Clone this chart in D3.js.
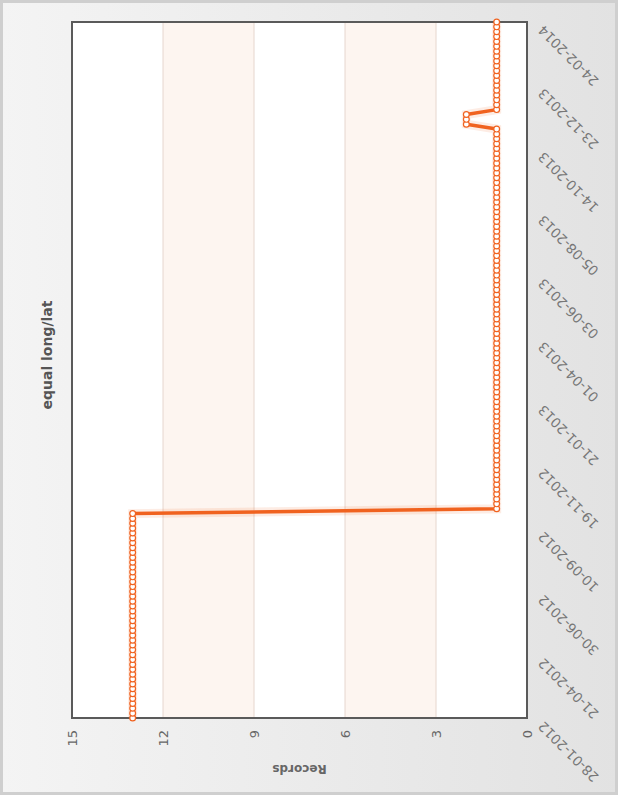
<!DOCTYPE html>
<html>
<head>
<meta charset="utf-8">
<script src="https://cdn.jsdelivr.net/npm/d3@7"></script>
<style>
body { margin: 0; background: #fff; }
text { font-family: "DejaVu Sans", Verdana, sans-serif; }
</style>
</head>
<body>
<div id="app"></div>
<script>
// Chart data.
var chartTitle = "equal long/lat";
var yTitle = "Records";
var yTicks = [0, 3, 6, 9, 12, 15];
var dateLabels = ["28-01-2012", "21-04-2012", "30-06-2012", "10-09-2012", "19-11-2012", "21-01-2013",
	"01-04-2013", "03-06-2013", "05-08-2013", "14-10-2013", "23-12-2013", "24-02-2014"];
var labelStep = 13;	// one date label every 13 records
var records = [
	13, 13, 13, 13, 13, 13, 13, 13, 13, 13, 13, 13, 13, 13, 13, 13, 13, 13, 13, 13,
	13, 13, 13, 13, 13, 13, 13, 13, 13, 13, 13, 13, 13, 13, 13, 13, 13, 13, 13, 13,
	13, 13, 13, 1, 1, 1, 1, 1, 1, 1, 1, 1, 1, 1, 1, 1, 1, 1, 1, 1,
	1, 1, 1, 1, 1, 1, 1, 1, 1, 1, 1, 1, 1, 1, 1, 1, 1, 1, 1, 1,
	1, 1, 1, 1, 1, 1, 1, 1, 1, 1, 1, 1, 1, 1, 1, 1, 1, 1, 1, 1,
	1, 1, 1, 1, 1, 1, 1, 1, 1, 1, 1, 1, 1, 1, 1, 1, 1, 1, 1, 1,
	1, 1, 2, 2, 2, 1, 1, 1, 1, 1, 1, 1, 1, 1, 1, 1, 1, 1, 1, 1,
	1, 1, 1, 1];

var width = 620, height = 798;
// The chart is laid out unrotated (798 wide, 620 high) and then turned a quarter left.
var cw = height, ch = width;
var plot = {left: 80, right: 776, top: 72, bottom: 527};
var lineColor = "#f0621f";

var svg = d3.select("#app").append("svg")
	.attr("width", width).attr("height", height);

var defs = svg.append("defs");
var grad = defs.append("linearGradient").attr("id", "bg")
	.attr("gradientUnits", "userSpaceOnUse")
	.attr("x1", 0).attr("y1", 0).attr("x2", width).attr("y2", 0);
grad.append("stop").attr("offset", 0).attr("stop-color", "#f4f4f4");
grad.append("stop").attr("offset", 1).attr("stop-color", "#e2e2e2");

svg.append("rect")
	.attr("x", 1.5).attr("y", 1.5).attr("width", width - 5).attr("height", height - 6)
	.attr("fill", "url(#bg)").attr("stroke", "#cfcfcf").attr("stroke-width", 3);

var g = svg.append("g")
	.attr("transform", "translate(0," + cw + ") rotate(-90)");

var x = d3.scaleLinear().domain([0, records.length - 1]).range([plot.left, plot.right]);
var y = d3.scaleLinear().domain([0, 15]).range([plot.bottom, plot.top]);

// Plot background and alternate bands.
g.append("rect")
	.attr("x", plot.left).attr("y", plot.top)
	.attr("width", plot.right - plot.left).attr("height", plot.bottom - plot.top)
	.attr("fill", "#fff");
for (var i = 1; i < yTicks.length - 1; i += 2)
	g.append("rect")
		.attr("x", plot.left).attr("y", y(yTicks[i + 1]))
		.attr("width", plot.right - plot.left).attr("height", y(yTicks[i]) - y(yTicks[i + 1]))
		.attr("fill", "#fdf5f0");

g.selectAll("line.grid").data(yTicks.slice(1, -1)).enter().append("line")
	.attr("class", "grid")
	.attr("x1", plot.left).attr("x2", plot.right)
	.attr("y1", function (d) {return y(d);}).attr("y2", function (d) {return y(d);})
	.attr("stroke", "#e6d6ce").attr("stroke-width", 1);

// Y axis
var yAxis = g.append("g")
	.attr("transform", "translate(" + plot.left + ",0)")
	.call(d3.axisLeft(y).tickValues(yTicks).tickSize(0).tickPadding(12));
yAxis.select(".domain").remove();
yAxis.selectAll("text")
	.style("font-size", "13px").attr("fill", "#666");

// X axis
var tickIdx = dateLabels.map(function (d, i) {return i * labelStep;});
var xAxis = g.append("g")
	.attr("transform", "translate(0," + plot.bottom + ")")
	.call(d3.axisBottom(x).tickValues(tickIdx).tickSize(0)
		.tickFormat(function (d) {return dateLabels[d / labelStep];}));
xAxis.select(".domain").remove();
xAxis.selectAll("text")
	.style("font-size", "13.5px").attr("fill", "#777")
	.attr("text-anchor", "end")
	.attr("dy", null).attr("y", 0)
	.attr("transform", "translate(-3,17) rotate(-45)");

// Frame
g.append("rect")
	.attr("x", plot.left).attr("y", plot.top)
	.attr("width", plot.right - plot.left).attr("height", plot.bottom - plot.top)
	.attr("fill", "none").attr("stroke", "#5a5a5a").attr("stroke-width", 2);

// Series
var line = d3.line()
	.x(function (d, i) {return x(i);})
	.y(function (d) {return y(d);});
g.append("path").datum(records)
	.attr("d", line).attr("fill", "none")
	.attr("stroke", lineColor).attr("stroke-opacity", 0.12).attr("stroke-width", 9);
g.append("path").datum(records)
	.attr("d", line).attr("fill", "none")
	.attr("stroke", lineColor).attr("stroke-width", 3.5)
	.attr("stroke-linejoin", "round");
g.selectAll("circle").data(records).enter().append("circle")
	.attr("cx", function (d, i) {return x(i);})
	.attr("cy", function (d) {return y(d);})
	.attr("r", 2.9)
	.attr("fill", "#fff").attr("stroke", lineColor).attr("stroke-width", 1.2);

// Titles
g.append("text")
	.attr("x", (plot.left + plot.right) / 2 + 15).attr("y", 52)
	.attr("text-anchor", "middle")
	.style("font-size", "14px").style("font-weight", "bold")
	.attr("fill", "#555")
	.text(chartTitle);

g.append("text")
	.attr("transform", "translate(" + 33 + "," + ((plot.top + plot.bottom) / 2) + ") rotate(-90)")
	.attr("text-anchor", "middle")
	.style("font-size", "12px").style("font-weight", "bold")
	.attr("fill", "#666")
	.text(yTitle);
</script>
</body>
</html>
